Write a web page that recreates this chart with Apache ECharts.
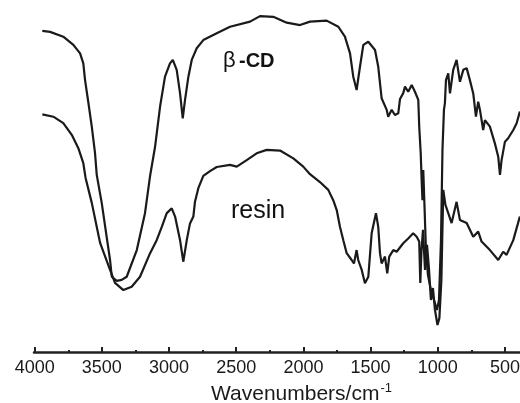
<!DOCTYPE html>
<html>
<head>
<meta charset="utf-8">
<script src="https://cdn.jsdelivr.net/npm/echarts@6/dist/echarts.min.js"></script>
<style>
html,body{margin:0;padding:0;background:#fff;}
#chart{width:520px;height:403px;}
</style>
</head>
<body>
<div id="chart"></div>
<script>
// FT-IR spectra, wavenumber (cm-1) vs transmittance (a.u.)
var cdWavenumber = [3943,3885,3787,3712,3662,3638,3625,3600,3575,3551,3538,3501,3464,3439,3426,3389,3352,3315,3240,3179,3141,3104,3067,3030,2993,2972,2943,2918,2898,2881,2856,2831,2794,2745,2645,2546,2397,2323,2224,2124,2025,1951,1827,1740,1691,1653,1629,1604,1579,1554,1517,1467,1443,1418,1380,1369,1343,1319,1294,1281,1257,1244,1220,1194,1170,1145,1138,1127,1120,1114,1108,1099,1088,1073,1051,1028,1006,991,976,965,954,947,939,922,909,885,860,835,810,785,761,736,716,699,686,662,649,612,575,550,537,525,500,476,438,413,389];
var cdT = [93.9,93.6,92.2,89.8,87.3,84.4,79.5,72.8,65.9,58.2,51.8,43.6,33.6,26.9,22.0,20.8,21.1,22.0,29.8,40.6,51.5,60.0,71.7,80.5,84.4,85.4,82.5,75.6,68.3,73.7,80.5,85.4,88.8,91.2,93.2,95.1,96.6,98.2,98.0,96.3,95.6,96.6,96.9,95.1,92.2,87.3,80.5,76.6,83.4,89.8,90.7,88.3,83.4,74.2,70.8,68.8,70.8,69.3,69.8,74.0,75.7,77.6,76.1,78.1,76.1,73.7,65.9,58.2,50.3,44.4,53.2,43.0,29.8,22.5,18.1,15.2,12.3,15.2,32.7,59.1,70.8,72.7,79.5,81.5,75.6,82.5,85.4,79.0,82.5,83.0,79.5,75.6,68.8,73.2,70.8,64.9,67.8,65.9,61.0,57.1,51.8,56.1,61.5,62.5,64.9,66.9,70.3];

var resinWavenumber = [3943,3861,3787,3724,3675,3638,3621,3575,3513,3439,3402,3340,3278,3216,3141,3092,3054,3017,2980,2955,2918,2894,2868,2844,2819,2807,2782,2745,2695,2645,2546,2496,2422,2348,2273,2174,2075,2001,1951,1877,1815,1778,1752,1728,1703,1678,1641,1624,1604,1592,1566,1542,1517,1492,1460,1443,1430,1418,1393,1376,1361,1331,1306,1257,1220,1183,1157,1138,1130,1121,1110,1095,1080,1066,1051,1036,1021,1002,988,973,959,943,922,897,860,835,785,736,699,674,612,550,513,488,438,389];
var resinT = [69.5,68.8,66.9,63.5,59.6,55.2,50.9,43.6,31.9,24.0,20.2,18.1,19.1,22.0,28.9,32.7,36.6,40.6,42.0,39.6,32.7,26.4,32.7,37.6,39.6,43.9,47.9,51.5,52.9,54.1,54.7,54.2,56.1,58.1,59.1,58.9,56.6,54.2,52.0,49.7,47.4,44.4,41.5,36.6,32.7,28.9,26.9,25.9,29.8,26.9,24.0,20.1,22.0,34.7,40.6,36.6,28.9,25.9,27.9,23.0,27.9,29.8,29.3,31.8,33.2,34.7,33.7,32.3,20.2,29.8,35.7,24.0,31.3,24.6,15.2,18.7,12.3,7.9,9.9,21.1,47.4,43.0,40.6,37.7,43.9,38.6,37.7,33.7,35.2,32.3,29.8,26.9,29.3,28.4,32.7,39.6];

var majorTicks = [500,1000,1500,2000,2500,3000,3500,4000];
var minorTicks = [500,750,1000,1250,1500,1750,2000,2250,2500,2750,3000,3250,3500,3750,4000];
var curveNames = ['β-CD','resin'];

function zip(a,b){var o=[];for(var i=0;i<a.length;i++){o.push([a[i],b[i]]);}return o;}

var chart = echarts.init(document.getElementById('chart'), null, {renderer:'canvas'});
var FONT = '"Liberation Sans", Arial, sans-serif';
var lineCol = '#1a1a1a';
chart.setOption({
  animation:false,
  backgroundColor:'#ffffff',
  grid:{left:34,right:0,top:10,bottom:51,containLabel:false,outerBoundsMode:'none'},
  xAxis:[{
    type:'value', inverse:true, min:388, max:4005,
    axisLine:{show:true,lineStyle:{color:'#222',width:2.5}},
    axisTick:{show:true,inside:true,length:2,customValues:minorTicks,lineStyle:{color:'#222',width:2}},
    axisLabel:{customValues:majorTicks,color:'#1a1a1a',fontSize:18,fontFamily:FONT,margin:7,
      formatter:function(v){return String(v);}},
    splitLine:{show:false},
    name:'Wavenumbers/cm{sup|-1}',
    nameLocation:'middle', nameGap:30,
    nameTextStyle:{color:'#1a1a1a',fontSize:21,fontFamily:FONT,padding:[0,0,0,49],
      rich:{sup:{fontSize:13,fontFamily:FONT,color:'#1a1a1a',verticalAlign:'top',padding:[0,0,12,1]}}}
  },{
    type:'value', inverse:true, min:388, max:4005, position:'bottom',
    axisLine:{show:false},
    axisTick:{show:true,inside:true,length:5,customValues:majorTicks,lineStyle:{color:'#222',width:2}},
    axisLabel:{show:false}, splitLine:{show:false}
  }],
  yAxis:{type:'value',min:0,max:100,show:false},
  graphic:[
    {type:'text',left:223,top:50,style:{
      text:'{b|β} {c|-CD}',
      rich:{b:{fontSize:22,fontFamily:FONT,fill:'#111'},c:{fontSize:20,fontWeight:'bold',fontFamily:FONT,fill:'#111'}}}},
    {type:'text',left:231,top:199,style:{text:'resin',fontSize:25,fontFamily:FONT,fill:'#111'}}
  ],
  series:[
    {name:curveNames[0],type:'line',data:zip(cdWavenumber,cdT),showSymbol:false,symbol:'none',
     lineStyle:{color:lineCol,width:2.2},z:3},
    {name:curveNames[1],type:'line',data:zip(resinWavenumber,resinT),showSymbol:false,symbol:'none',
     lineStyle:{color:lineCol,width:2.2},z:3}
  ]
});
</script>
</body>
</html>
